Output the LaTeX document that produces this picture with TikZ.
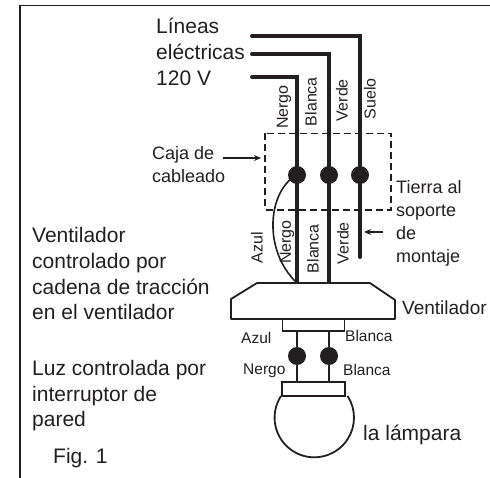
\documentclass[tikz,border=0pt]{standalone}
\usepackage{fontspec}
\usetikzlibrary{arrows.meta}
\setmainfont{Liberation Sans}
\definecolor{ink}{HTML}{231F20}
\begin{document}
\begin{tikzpicture}[x=1pt,y=-1pt,
  wire/.style={draw=ink,line width=4pt,line join=miter},
  thin wire/.style={draw=ink,line width=2pt},
  shell/.style={draw=ink,line width=1.8pt,fill=white,line join=round},
  junction/.style={circle,fill=ink,inner sep=0pt,minimum size=18pt},
  big/.style={text=ink,font=\fontsize{21}{26.4}\selectfont,align=left,anchor=north west,inner sep=0pt},
  tight/.style={big,font=\fontsize{21}{25.6}\selectfont},
  mid/.style={text=ink,font=\fontsize{18}{23}\selectfont,align=left,anchor=north west,inner sep=0pt},
  small/.style={text=ink,font=\fontsize{15.5}{18}\selectfont,inner sep=0pt},
  vert/.style={small,rotate=90,anchor=east,font=\fontsize{16}{18}\selectfont},
  pointer/.style={draw=ink,line width=1.2pt,-{Stealth[length=7pt,width=6pt]}}]
\useasboundingbox (0,0) rectangle (490,478);
% frame
\draw[draw=ink,line width=1.8pt] (20,478) -- (20,5.5) -- (490,5.5);
% free ends
\coordinate (gndstart) at (252,36);
\coordinate (whitestart) at (252,54);
\coordinate (blackstart) at (252,77);
% junctions
\node[junction] (jb) at (297,175) {};
\node[junction] (jw) at (329,175) {};
\node[junction] (jg) at (360,175) {};
% fan
\coordinate (fanb) at (297,283);
\coordinate (fanw) at (329,283);
\coordinate (gndend) at (360,257);
\draw[thin wire,line width=1.6pt] (jb.center) .. controls (268,190) and (262,250) .. (fanb);
\draw[wire,line cap=round] (gndstart) -- (360,36) -- (jg.center) -- (gndend);
\draw[wire,line cap=round] (whitestart) -- (329,54) -- (jw.center) -- (fanw);
\draw[wire,line cap=round] (blackstart) -- (297,77) -- (jb.center) -- (fanb);
% wiring box
\draw[draw=ink,line width=1.8pt,dash pattern=on 7pt off 4pt] (265,133.5) rectangle (391,210);
% fan body
\draw[shell] (257,283) -- (370,283) -- (395,300) -- (395,319) -- (231,319) -- (231,299) -- cycle;
\node[draw=ink,line width=1.8pt,fill=white,inner sep=0pt,minimum width=62pt,minimum height=12pt] (canopy) at (313.5,325) {};
% lamp
\node[draw=ink,line width=1.8pt,fill=white,inner sep=0pt,minimum width=63pt,minimum height=14pt] (socket) at (313.5,389) {};
\node[junction] (jl) at (297,356) {};
\node[junction] (jr) at (329,356) {};
\draw[thin wire] (jl |- canopy.south) -- (jl.center) -- (jl |- socket.north);
\draw[thin wire] (jr |- canopy.south) -- (jr.center) -- (jr |- socket.north);
\draw[draw=ink,line width=1.8pt] (281,396) arc[start angle=213,end angle=-33,radius=39.7];
% arrows
\coordinate (capt) at (223,158);
\coordinate (boxl) at (261,158);
\draw[pointer] (capt) -- (boxl);
\coordinate (groundt) at (383,232);
\coordinate (groundh) at (364,232);
\draw[pointer] (groundt) -- (groundh);
% big text
\node[big] (t1) at (156,17.5) {Líneas\\eléctricas\\120 V};
\node[mid] (t2) at (152,146) {Caja de\\cableado};
\node[tight] (t3) at (32,227.5) {Ventilador\\controlado por\\cadena de tracción\\en el ventilador};
\node[tight] (t4) at (32,360) {Luz controlada por\\interruptor de\\pared};
\node[big,anchor=west] (t5) at (53,458) {Fig. 1};
\node[mid] (t6) at (396,180) {Tierra al\\soporte\\de\\montaje};
\node[big,font=\fontsize{19}{23}\selectfont,anchor=west] (t7) at (402,308) {Ventilador};
\node[big,anchor=west] (t8) at (363,435) {la lámpara};
% wire labels
\node[vert] (l1) at (284,85) {Nergo};
\node[vert] (l2) at (311,77) {Blanca};
\node[vert] (l3) at (342,79) {Verde};
\node[vert] (l4) at (370,78) {Suelo};
\node[vert] (l5) at (257,232) {Azul};
\node[vert] (l6) at (287,220) {Nergo};
\node[vert] (l7) at (313,224) {Blanca};
\node[vert] (l8) at (343,222) {Verde};
\node[small,anchor=west] (l9) at (241,338) {Azul};
\node[small,anchor=west] (l10) at (345,336) {Blanca};
\node[small,anchor=west] (l11) at (243,371) {Nergo};
\node[small,anchor=west] (l12) at (343,370) {Blanca};
\end{tikzpicture}
\end{document}
